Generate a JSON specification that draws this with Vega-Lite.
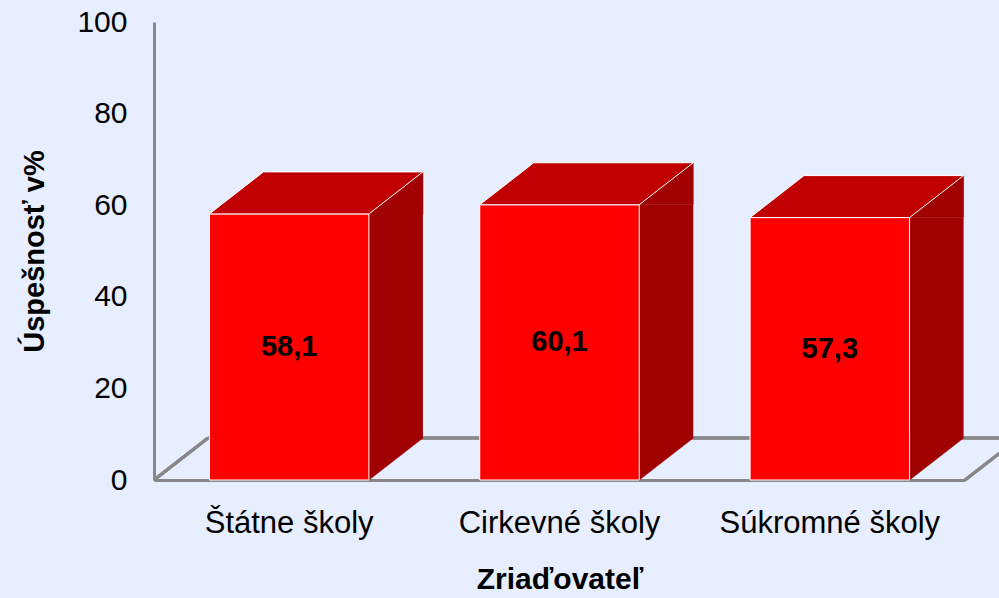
{
  "$schema": "https://vega.github.io/schema/vega-lite/v6.json",
  "width": 811,
  "height": 458,
  "autosize": {"type": "none"},
  "padding": {"left": 154, "top": 22, "right": 34, "bottom": 118},
  "background": "#E6EEFF",
  "config": {
    "view": {"stroke": null},
    "font": "Liberation Sans",
    "locale": {"number": {"decimal": ",", "thousands": "\u00a0", "grouping": [3], "currency": ["", " €"]}}
  },
  "data": {"values": [
    {"zriadovatel": "Štátne školy", "uspesnost": 58.1},
    {"zriadovatel": "Cirkevné školy", "uspesnost": 60.1},
    {"zriadovatel": "Súkromné školy", "uspesnost": 57.3}
  ]},
  "resolve": {"scale": {"y": "independent"}},
  "layer": [
    {
      "layer": [
        {
          "mark": {"type": "point", "shape": "M0,0L8.5,0", "size": 40000, "filled": false, "opacity": 1, "stroke": "#888888", "strokeWidth": 3},
          "encoding": {
            "x": {"datum": "Štátne školy", "type": "nominal", "bandPosition": -0.0089},
            "y": {"datum": 9.17, "type": "quantitative"}
          }
        },
        {
          "mark": {"type": "point", "shape": "M0,0L0.54,-0.42", "size": 40000, "filled": false, "opacity": 1, "stroke": "#888888", "strokeWidth": 3},
          "encoding": {
            "x": {"datum": "Štátne školy", "type": "nominal", "bandPosition": -0.3475},
            "y": {"datum": 0, "type": "quantitative"}
          }
        },
        {
          "mark": {"type": "point", "shape": "M0,0L0.54,-0.42", "size": 40000, "filled": false, "opacity": 1, "stroke": "#888888", "strokeWidth": 3},
          "encoding": {
            "x": {"datum": "Súkromné školy", "type": "nominal", "bandPosition": 1.3475},
            "y": {"datum": 0, "type": "quantitative"}
          }
        },
        {
          "mark": {"type": "bar", "color": "#A00000", "width": 54, "xOffset": 106.75},
          "encoding": {
            "x": {"field": "zriadovatel", "type": "nominal", "sort": ["Štátne školy", "Cirkevné školy", "Súkromné školy"]},
            "y": {"field": "uspesnost", "type": "quantitative"},
            "y2": {"datum": 9.17}
          }
        },
        {
          "mark": {"type": "point", "shape": "M0.7975,0L0.7975,-0.42L1.3375,-0.42Z", "size": 40000, "filled": true, "opacity": 1, "fill": "#A00000", "stroke": "#A00000", "strokeWidth": 0.6},
          "encoding": {
            "x": {"field": "zriadovatel", "type": "nominal", "sort": ["Štátne školy", "Cirkevné školy", "Súkromné školy"]},
            "y": {"datum": 0, "type": "quantitative"}
          }
        },
        {
          "mark": {"type": "point", "shape": "M0.7975,0L1.3375,0L1.3375,-0.42Z", "size": 40000, "filled": true, "opacity": 1, "fill": "#A00000", "stroke": "#A00000", "strokeWidth": 0.6},
          "encoding": {
            "x": {"field": "zriadovatel", "type": "nominal", "sort": ["Štátne školy", "Cirkevné školy", "Súkromné školy"]},
            "y": {"field": "uspesnost", "type": "quantitative"}
          }
        },
        {
          "mark": {"type": "bar", "color": "#FF0000", "stroke": "#FFFFFF", "strokeWidth": 1},
          "encoding": {
            "x": {
              "field": "zriadovatel", "type": "nominal", "sort": ["Štátne školy", "Cirkevné školy", "Súkromné školy"],
              "scale": {"paddingInner": 0.41, "paddingOuter": 0.205},
              "axis": {
                "title": "Zriaďovateľ", "labelAngle": 0, "ticks": false, "tickSize": 0, "bandPosition": 0.5,
                "labelLimit": 0, "labelAlign": "center",
                "domainColor": "#888888", "domainWidth": 3,
                "labelFontSize": 31, "labelColor": "#000000", "labelPadding": 43,
                "titleFontSize": 30, "titleFontWeight": "bold", "titleColor": "#000000", "titlePadding": 26
              }
            },
            "y": {
              "field": "uspesnost", "type": "quantitative",
              "scale": {"domain": [0, 100], "nice": false},
              "axis": {
                "title": "Úspešnosť v%", "values": [0, 20, 40, 60, 80, 100], "grid": false,
                "ticks": false, "tickSize": 0, "domainColor": "#888888", "domainWidth": 3,
                "labelFontSize": 30, "labelColor": "#000000", "labelPadding": 27,
                "titleFontSize": 29, "titleFontWeight": "bold", "titleColor": "#000000", "titlePadding": 27
              }
            }
          }
        },
        {
          "mark": {"type": "point", "shape": "M-0.7975,0L0.7975,0L1.3375,-0.42L-0.2575,-0.42Z", "size": 40000, "filled": true, "opacity": 1, "fill": "#C00000", "stroke": "#FFFFFF", "strokeWidth": 1},
          "encoding": {
            "x": {"field": "zriadovatel", "type": "nominal", "sort": ["Štátne školy", "Cirkevné školy", "Súkromné školy"]},
            "y": {"field": "uspesnost", "type": "quantitative"}
          }
        }
      ]
    },
    {
      "mark": {"type": "text", "fontSize": 29, "fontWeight": "bold", "color": "#000000", "baseline": "middle", "align": "center"},
      "encoding": {
        "x": {"field": "zriadovatel", "type": "nominal", "sort": ["Štátne školy", "Cirkevné školy", "Súkromné školy"]},
        "y": {"field": "uspesnost", "type": "quantitative", "scale": {"domain": [0, 200], "nice": false}, "axis": null},
        "text": {"field": "uspesnost", "type": "quantitative", "format": ".1f"}
      }
    }
  ]
}
